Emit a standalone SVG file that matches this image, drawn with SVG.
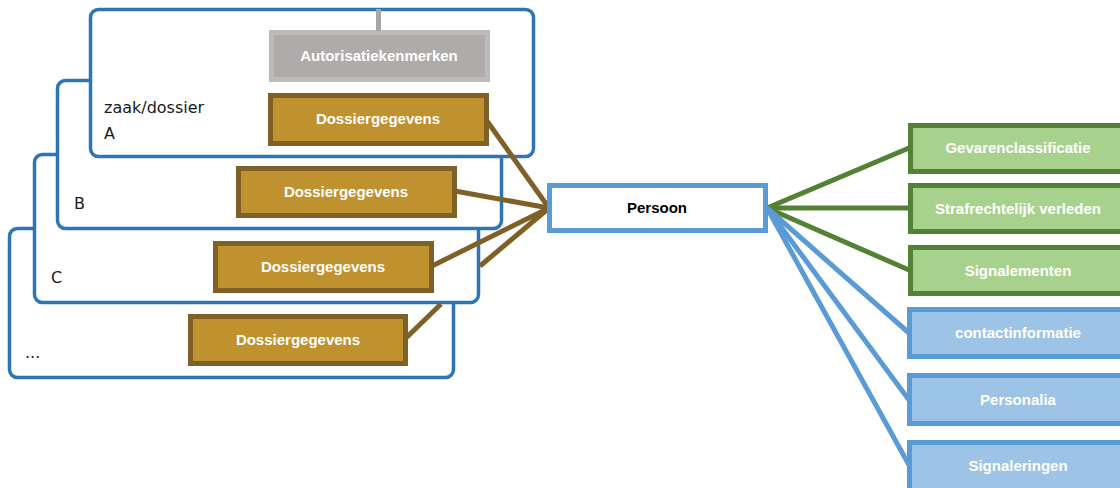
<svg xmlns="http://www.w3.org/2000/svg" width="1120" height="488" viewBox="0 0 1120 488">
<style>
.cont{fill:#fff;stroke:#2E75B6;stroke-width:3.5}
.dos{fill:#BF912F;stroke:#7F6128;stroke-width:5}
.aut{fill:#AEABAA;stroke:#BDBBBA;stroke-width:5}
.grn{fill:#A9D18E;stroke:#548235;stroke-width:5}
.blu{fill:#9DC3E6;stroke:#5B9BD5;stroke-width:5}
.per{fill:#fff;stroke:#5B9BD5;stroke-width:5}
.wt{font-family:"Liberation Sans",Arial,sans-serif;font-weight:bold;font-size:15px;fill:#fff;text-anchor:middle}
.bt{font-family:"Liberation Sans",Arial,sans-serif;font-weight:bold;font-size:15px;fill:#000;text-anchor:middle}
.lab{font-family:"DejaVu Sans",sans-serif;font-size:16px;fill:#1a1a1a}
.cb{stroke:#7F6128;stroke-width:5;fill:none}
.cg{stroke:#548235;stroke-width:5;fill:none}
.cl{stroke:#5B9BD5;stroke-width:5;fill:none}
</style>
<rect width="1120" height="488" fill="#fff"/>
<g id="dossier-more">
<rect class="cont" x="9.5" y="228.5" width="444" height="149" rx="8"/>
<text class="lab" x="25" y="358" font-size="13">...</text>
<rect class="dos" x="190.5" y="316.5" width="215" height="47"/>
<text class="wt" x="298" y="345">Dossiergegevens</text>
</g>
<g id="dossier-c">
<rect class="cont" x="34.5" y="154.5" width="444" height="148" rx="8"/>
<text class="lab" x="51" y="283">C</text>
<rect class="dos" x="215.5" y="243.5" width="216" height="47"/>
<text class="wt" x="323" y="272">Dossiergegevens</text>
</g>
<g id="dossier-b">
<rect class="cont" x="57.5" y="80.5" width="444" height="148" rx="8"/>
<text class="lab" x="74" y="209">B</text>
<rect class="dos" x="238.5" y="168.5" width="216" height="47"/>
<text class="wt" x="346" y="197">Dossiergegevens</text>
</g>
<g id="dossier-a">
<rect class="cont" x="90.5" y="9.5" width="443" height="147" rx="8"/>
<text class="lab" x="104" y="113">zaak/dossier</text>
<text class="lab" x="104" y="139">A</text>
<rect class="dos" x="270.5" y="95.5" width="216" height="48"/>
<text class="wt" x="378" y="124">Dossiergegevens</text>
</g>
<g id="autorisatie">
<rect class="aut" x="271.5" y="32.5" width="216" height="47"/>
<text class="wt" x="379" y="61">Autorisatiekenmerken</text>
</g>
<g id="connectors">
<line x1="378.5" y1="9" x2="378.5" y2="31" stroke="#A6A6A6" stroke-width="5"/>
<line class="cb" x1="487" y1="121" x2="549" y2="208"/>
<line class="cb" x1="455" y1="191" x2="549" y2="208"/>
<line class="cb" x1="432" y1="266" x2="549" y2="208"/>
<path class="cb" d="M406,338 L441,304 M480,266 L549,208"/>
<line class="cg" x1="767" y1="208" x2="909" y2="148"/>
<line class="cg" x1="767" y1="208" x2="909" y2="208"/>
<line class="cg" x1="767" y1="208" x2="909" y2="270"/>
<line class="cl" x1="767" y1="208" x2="909" y2="333"/>
<line class="cl" x1="767" y1="208" x2="909" y2="400"/>
<line class="cl" x1="767" y1="208" x2="909" y2="465"/>
</g>
<g id="persoon">
<rect class="per" x="549.5" y="185.5" width="216" height="45"/>
<text class="bt" x="657" y="213">Persoon</text>
</g>
<g id="gevarenclassificatie">
<rect class="grn" x="910.5" y="125.5" width="220" height="46"/>
<text class="wt" x="1018" y="153">Gevarenclassificatie</text>
</g>
<g id="strafrechtelijk">
<rect class="grn" x="910.5" y="185.5" width="220" height="46"/>
<text class="wt" x="1018" y="214">Strafrechtelijk verleden</text>
</g>
<g id="signalementen">
<rect class="grn" x="910.5" y="247.5" width="220" height="46"/>
<text class="wt" x="1018" y="276">Signalementen</text>
</g>
<g id="contactinformatie">
<rect class="blu" x="909.5" y="309.5" width="220" height="47"/>
<text class="wt" x="1018" y="338">contactinformatie</text>
</g>
<g id="personalia">
<rect class="blu" x="909.5" y="375.5" width="220" height="48"/>
<text class="wt" x="1018" y="405">Personalia</text>
</g>
<g id="signaleringen">
<rect class="blu" x="909.5" y="442.5" width="220" height="50"/>
<text class="wt" x="1018" y="471">Signaleringen</text>
</g>
</svg>
